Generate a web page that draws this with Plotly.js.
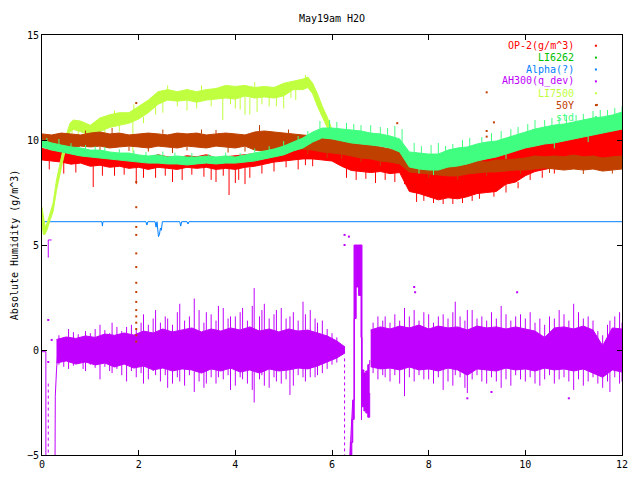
<!DOCTYPE html>
<html>
<head>
<meta charset="utf-8">
<script src="https://cdn.plot.ly/plotly-3.0.1.min.js"></script>
<style>body{margin:0;background:#fff}#myDiv{width:640px;height:480px}</style>
</head>
<body>
<div id="myDiv"></div>
<script>
var FONT = 'DejaVu Sans Mono, monospace';

// common time grid (hours)
var gridX = [0,0.2,0.4,0.6,0.8,1,1.2,1.4,1.6,1.8,2,2.2,2.4,2.6,2.8,3,3.2,3.4,3.6,3.8,4,4.2,4.4,4.6,4.8,5,5.2,5.4,5.6,5.8,
             6,6.2,6.4,6.6,6.8,7,7.2,7.4,7.6,7.8,8,8.2,8.4,8.6,8.8,9,9.2,9.4,9.6,9.8,10,10.2,10.4,10.6,10.8,11,11.2,11.4,11.6,11.8,12];

// OP-2 band (upper / lower edge of the noise)
var opHi = [9.6,9.5,9.55,9.4,9.45,9.3,9.35,9.25,9.3,9.2,
            9.25,9.15,9.3,9.2,9.15,9.25,9.2,9.3,9.15,9.2,
            9.25,9.3,9.35,9.4,9.5,9.55,9.6,9.65,9.7,9.65,
            9.6,9.55,9.5,9.45,9.4,9.35,9.3,9.2,9.05,8.9,
            8.7,8.6,8.65,8.7,8.85,9.1,9.2,9.5,9.8,9.9,
            9.95,10.0,9.95,10.15,10.1,10.3,10.25,10.35,10.4,10.4,
            10.5];
var opLo = [9.05,9.0,8.95,8.85,8.9,8.75,8.8,8.7,8.75,8.65,
            8.7,8.6,8.7,8.65,8.6,8.7,8.65,8.7,8.6,8.65,
            8.6,8.7,8.75,8.85,8.95,9.0,9.05,9.1,9.1,9.05,
            9.0,8.75,8.55,8.5,8.45,8.5,8.4,8.45,7.55,7.45,
            7.3,7.15,7.25,7.2,7.3,7.45,7.5,7.55,7.9,8.0,
            8.3,8.5,8.6,8.7,8.75,8.8,8.85,8.9,8.85,8.9,
            8.95];
var opSpkX = [0.45,1.06,1.5,1.95,2.35,2.9,3.35,3.6,3.87,4.0,4.07,4.2,4.55,5.3,5.6,6.5,6.9,7.3,7.75,8.1,8.5,8.9,
              9.2,9.45,9.7,9.9,10.15,10.45,10.7,10.95,11.25,11.5,11.75,11.95,
              0.15,0.7,1.25,1.7,2.1,2.55,2.7,3.1,3.5,3.75,4.3,4.8,5.05,5.45,6.3,6.7,7.1,7.5,7.9,8.3,8.7,9.05,9.35,9.6,9.85,10.1,10.35,10.6,
              7.7,8.05,8.55,9.0,9.3,9.55,9.8,10.05,10.3,10.55,10.8,11.1,11.35,11.6,11.85];
var opSpkFrom = [9.0,8.9,8.8,8.7,8.7,8.7,8.7,8.7,8.7,8.7,8.7,8.7,8.9,9.1,9.1,8.6,8.5,8.45,7.5,7.3,7.25,7.35,
                 9.1,9.4,9.7,9.85,9.95,10.0,10.1,10.2,10.2,10.3,10.35,10.4,
                 9.0,8.9,8.8,8.75,8.65,8.65,8.6,8.7,8.65,8.65,8.7,8.95,9.0,9.1,8.7,8.5,8.45,8.4,7.45,7.2,7.25,7.5,7.55,7.9,8.0,8.4,8.55,8.7,
                 8.9,8.7,8.7,9.1,9.4,9.6,9.8,9.9,10.0,10.1,10.1,10.2,10.3,10.35,10.4];
var opSpkTo = [8.4,7.76,8.3,7.9,8.2,8.1,8.25,8.0,7.38,7.95,8.1,7.9,8.4,8.6,8.75,8.1,7.95,8.0,7.05,7.0,6.95,7.1,
               9.55,9.9,10.2,10.33,10.5,10.57,10.48,10.76,10.6,10.86,10.71,10.95,
               8.6,8.45,8.3,8.35,8.2,8.3,8.0,8.35,8.1,8.3,8.2,8.5,8.7,8.8,8.2,8.15,8.1,7.9,7.1,6.95,7.0,7.2,7.3,7.5,7.7,8.1,8.2,8.4,
               9.25,9.1,9.2,9.5,9.8,10.05,10.2,10.4,10.45,10.6,10.55,10.6,10.7,10.8,10.9];
var opDotX = [5.92];
var opDotY = [10.86];

// Alpha(?)
var alX = [0,1.24,1.25,1.26,2.15,2.17,2.19,2.34,2.36,2.38,2.41,2.43,2.45,2.47,2.49,2.85,2.87,2.89,3.0,3.02,3.04,12];
var alY = [6.11,6.11,5.9,6.11,6.11,5.95,6.11,6.11,5.85,6.11,5.4,5.5,5.8,5.7,6.11,6.11,5.9,6.11,6.11,6.0,6.11,6.11];

// AH300(q_dev)
var ahX1 = [0.3,0.5,0.7,0.9,1.1,1.3,1.5,1.7,1.9,2.1,2.3,2.5,2.7,2.9,3.1,3.3,3.5,3.7,3.9,4.1,4.3,4.5,4.7,4.9,5.1,5.3,5.5,5.7,5.9,6.1,6.27];
var ahHi1 = [0.5,0.62,0.55,0.67,0.6,0.76,0.7,0.81,0.71,0.9,0.81,1.0,0.86,0.95,1.05,0.86,1.0,0.9,1.05,0.95,1.1,0.9,1.0,0.86,1.0,0.9,0.95,0.81,0.67,0.43,0.14];
var ahLo1 = [-0.62,-0.52,-0.67,-0.57,-0.71,-0.62,-0.81,-0.67,-0.86,-0.76,-0.95,-0.86,-1.0,-0.9,-0.95,-1.1,-0.9,-1.0,-0.86,-1.05,-0.95,-1.1,-0.9,-1.0,-0.95,-0.86,-0.9,-0.76,-0.57,-0.38,-0.14];
var ahEvX = [6.37,6.41,6.43,6.46,6.5,6.55,6.6,6.62,6.66,6.7,6.74,6.78];
var ahEvHi = [-4.4,-3.3,-2.4,5.0,5.0,5.0,5.0,-0.95,-1.1,-1.0,-0.7,-0.48];
var ahEvLo = [-5.0,-4.4,-3.3,1.5,3.0,2.6,0.6,-2.7,-2.9,-3.0,-3.2,-2.05];
var ahX2 = [6.8,7,7.2,7.4,7.6,7.8,8,8.2,8.4,8.6,8.8,9,9.2,9.4,9.6,9.8,10,10.2,10.4,10.6,10.8,11,11.2,11.4,11.6,11.8,12];
var ahHi2 = [0.95,1.1,1.0,1.14,1.05,1.19,1.0,1.14,1.05,1.1,0.95,1.14,1.05,1.1,1.0,1.1,1.0,0.9,0.6,1.05,1.1,1.0,1.14,0.95,0.2,1.05,1.0];
var ahLo2 = [-0.8,-0.9,-0.86,-0.95,-0.81,-0.95,-0.9,-1.0,-0.86,-0.95,-1.2,-0.9,-0.95,-1.0,-0.86,-0.95,-0.9,-1.0,-0.86,-0.95,-0.9,-1.0,-0.9,-1.1,-1.3,-0.95,-1.05];
var ahSpkX = [0.55,0.9,1.2,1.45,1.75,2.1,2.35,2.6,2.85,3.15,3.4,3.65,3.9,4.15,4.39,4.6,4.85,5.13,5.4,5.65,
              7.1,7.5,7.9,8.3,8.55,8.8,9.1,9.5,9.9,10.3,10.7,11.0,11.3,11.75,11.95,
              0.35,0.45,0.65,0.75,0.85,1.0,1.1,1.3,1.4,1.55,1.65,1.85,1.95,2.05,2.2,2.3,2.45,2.55,2.7,2.8,
              2.95,3.05,3.25,3.35,3.5,3.6,3.75,3.85,4.0,4.1,4.25,4.35,4.5,4.55,4.7,4.8,4.95,5.05,5.2,5.3,
              5.45,5.55,5.7,5.8,5.9,6.0,6.1,
              6.85,6.95,7.05,7.2,7.3,7.4,7.6,7.7,7.8,8.0,8.1,8.2,8.4,8.5,8.65,8.75,8.9,9.0,9.2,9.3,
              9.4,9.6,9.7,9.8,10.0,10.1,10.2,10.4,10.5,10.6,10.8,10.9,11.1,11.2,11.4,11.5,11.6,11.7,11.85,12.0];
var ahSpkLo = [-0.9,-1.0,-1.4,-1.1,-1.5,-1.6,-1.2,-1.8,-1.5,-2.0,-1.6,-1.3,-1.9,-1.4,-2.5,-1.7,-1.5,-2.14,-1.3,-1.3,
               -1.3,-2.2,-1.4,-1.9,-1.2,-2.05,-1.5,-1.8,-1.4,-1.7,-1.4,-1.9,-1.5,-2.0,-1.6,
               -0.7,-0.8,-0.75,-0.6,-0.9,-0.7,-0.85,-0.8,-1.0,-0.9,-1.2,-1.0,-1.3,-1.1,-1.4,-1.0,-1.5,-1.2,-1.6,-1.3,
               -1.7,-1.2,-1.5,-1.8,-1.3,-1.6,-1.4,-1.2,-1.7,-1.3,-1.6,-1.9,-1.4,-1.2,-1.8,-1.3,-1.6,-1.4,-1.7,-1.2,
               -1.5,-1.3,-1.2,-1.1,-0.9,-0.7,-0.6,
               -1.1,-1.4,-1.2,-1.5,-1.2,-1.6,-1.3,-1.5,-1.2,-1.4,-1.6,-1.3,-1.5,-1.7,-1.3,-1.8,-1.4,-1.2,-1.6,-1.3,
               -1.5,-1.4,-1.7,-1.2,-1.5,-1.3,-1.6,-1.4,-1.2,-1.6,-1.3,-1.5,-1.4,-1.7,-1.3,-1.6,-1.8,-1.5,-1.3,-1.5];
var ahSpkHi = [1.0,0.9,1.2,1.3,1.1,1.7,1.9,1.5,2.2,2.45,1.8,2.1,1.6,2.0,2.95,2.2,1.9,1.6,2.3,1.5,
               1.6,2.0,1.8,1.7,2.3,1.9,1.6,2.1,1.7,1.5,1.9,2.2,1.6,1.4,1.8,
               0.7,0.6,0.85,0.75,0.6,0.8,1.0,0.95,0.8,1.1,0.9,1.2,1.0,1.3,1.2,1.5,1.3,1.6,1.2,1.8,
               1.4,1.6,1.9,1.3,1.7,1.4,2.0,1.5,1.6,1.8,1.4,2.1,1.6,1.9,1.5,1.7,2.0,1.5,1.8,1.4,
               1.7,1.9,1.3,1.4,1.0,0.8,0.6,
               1.3,1.6,1.4,1.3,1.7,1.4,1.6,1.9,1.4,1.7,1.3,1.6,1.5,1.8,1.6,1.4,1.9,1.5,1.4,1.8,
               1.5,1.7,1.4,1.6,1.5,1.8,1.3,1.2,1.6,1.5,1.7,1.4,1.8,1.5,1.4,0.9,0.7,1.2,1.6,1.3];
var ahLineX = [0,0.08,0.08,null,0.13,0.13,0.2,null,0.27,0.275,0.3,0.33,null,6.37,6.41,6.43,6.46,6.46,null,6.61,6.61];
var ahLineY = [-0.08,-0.08,-5,null,4.4,5.24,5.24,null,-5,-2.2,-0.95,0,null,-5,-3.33,-2.38,-2.38,5.0,null,0.6,-3.33];
var ahDashX = [0.13,0.13,null,6.26,6.26];
var ahDashY = [-1.6,-5,null,-0.4,-5];
var ahDotX = [0.13,0.13,0.2,6.26,6.26,6.35,7.7,7.72,9.83,8.8,10.9,9.3];
var ahDotY = [1.43,-0.57,0.48,5.48,5.0,5.4,3.0,2.75,2.75,-2.3,-2.3,-2.0];

// LI7500
var lxX = [0,0.03,0.06,0.1,0.17,0.23,0.3,0.37,0.44,0.51,0.58,0.65,0.8,1,1.2,1.4,1.6,1.8,2,2.2,2.4,2.6,2.8,3,3.2,3.4,3.6,3.8,4,4.2,4.4,4.6,4.8,5,5.2,5.4,5.5,5.6,5.7,5.8,5.9,6];
var lxHi = [6.8,6.2,5.9,6.0,6.5,7.0,8.1,8.9,9.6,10.3,10.8,10.95,10.9,10.7,11.05,11.2,11.3,11.3,11.6,11.9,12.3,12.4,12.3,12.4,12.3,12.4,12.45,12.6,12.55,12.6,12.5,12.55,12.5,12.7,12.8,12.9,13.0,12.7,12.2,11.6,11.1,10.5];
var lxLo = [5.9,5.5,5.5,5.7,6.2,6.6,7.6,8.4,9.1,9.8,10.4,10.5,10.4,10.2,10.4,10.6,10.7,10.8,11.0,11.3,11.7,11.9,11.85,11.9,11.8,11.9,11.95,12.0,11.95,12.1,12.0,12.05,12.0,12.1,12.4,12.4,12.5,12.2,11.6,11.1,10.6,10.1];
var lxSpkX = [0.62,1.05,1.88,2.5,3.0,3.74,4.0,4.1,4.2,4.3,4.45,4.7,5.0,5.25,
              0.75,0.9,1.15,1.3,1.6,2.1,2.35,2.8,3.2,3.5,3.9,4.55,4.85,5.15,
              1.5,1.9,2.6,3.3,4.4,5.45];
var lxSpkFrom = [10.5,10.3,10.9,11.8,11.9,12.0,12.0,12.0,12.1,12.0,12.0,12.0,12.1,12.4,
                 10.5,10.5,10.4,10.5,10.8,11.1,11.6,11.9,11.9,11.9,12.0,12.0,12.0,12.3,
                 11.1,11.4,12.3,12.3,12.5,12.8];
var lxSpkTo = [9.7,9.9,9.4,11.3,11.4,10.95,11.5,11.45,11.2,11.2,11.33,11.6,11.5,11.9,
               10.1,10.0,10.05,10.2,10.4,10.8,11.2,11.6,11.5,11.6,11.7,11.7,11.6,12.0,
               11.4,11.7,12.6,12.6,12.75,13.1];

// 50Y
var fyHi = [10.29,10.24,10.33,10.29,10.24,10.33,10.38,10.29,10.33,10.24,
            10.29,10.33,10.29,10.24,10.33,10.29,10.33,10.24,10.29,10.33,
            10.29,10.24,10.38,10.43,10.38,10.33,10.29,10.24,10.19,10.1,
            10.05,10.0,9.9,9.81,9.76,9.67,9.57,9.48,9.05,9.0,
            8.95,8.9,8.95,8.9,8.95,9.0,8.95,9.05,9.05,9.1,
            9.14,9.24,9.2,9.24,9.2,9.29,9.2,9.24,9.14,9.2,
            9.24];
var fyLo = [9.71,9.67,9.71,9.62,9.71,9.67,9.71,9.62,9.67,9.71,
            9.67,9.62,9.71,9.67,9.62,9.71,9.67,9.62,9.71,9.67,
            9.62,9.71,9.52,9.48,9.52,9.48,9.57,9.57,9.52,9.43,
            9.38,9.33,9.24,9.14,9.1,9.0,8.95,8.86,8.48,8.43,
            8.38,8.33,8.29,8.29,8.38,8.43,8.48,8.48,8.52,8.57,
            8.57,8.62,8.67,8.62,8.57,8.62,8.57,8.62,8.52,8.57,
            8.62];
var fySpkX = [0.5,1.45,1.8,2.7,3.3,3.85,4.5,4.9,5.9,6.6,
              0.2,0.9,1.2,2.2,2.5,3.0,3.6,4.2,4.7,5.1,5.5,6.2,7.0,7.3,8.0,8.6,9.2,9.9,10.5,11.2,11.8];
var fySpkFrom = [9.7,10.3,9.7,9.65,10.3,9.65,10.4,9.5,9.45,9.2,
                 9.7,10.25,9.7,9.65,10.3,9.7,10.3,9.7,9.5,10.3,9.55,9.35,9.0,9.6,8.4,8.3,8.5,8.6,8.65,8.6,8.6];
var fySpkTo = [9.43,10.57,9.48,9.38,10.5,9.4,10.71,9.24,9.14,8.95,
               9.5,10.45,9.45,9.45,10.5,9.5,10.48,9.45,9.3,10.5,9.33,9.1,8.76,9.8,8.2,8.1,8.29,8.38,8.43,8.38,8.4];
var fyDotX = [1.95,1.95,1.95,1.95,1.95,1.95,1.95,1.95,1.95,1.95,1.95,1.95,1.95,1.95,1.95,1.95,7.35,9.2,9.35,9.2,9.2,9.68,11.48];
var fyDotY = [11.76,8.0,6.8,5.86,5.48,4.6,3.95,3.2,2.76,2.29,1.9,1.6,1.3,1.0,0.7,0.4,10.8,12.27,10.84,10.43,10.16,10.1,11.67];

// std
var sdHi = [10.0,9.86,9.76,9.67,9.62,9.52,9.52,9.43,9.38,9.38,
            9.29,9.24,9.29,9.19,9.24,9.19,9.19,9.24,9.19,9.24,
            9.19,9.29,9.38,9.48,9.57,9.71,9.9,10.1,10.38,10.57,
            10.57,10.52,10.48,10.43,10.33,10.29,10.19,10.05,9.43,9.38,
            9.33,9.33,9.52,9.62,9.67,9.81,9.9,9.95,10.1,10.24,
            10.38,10.52,10.62,10.71,10.76,10.86,10.95,11.05,11.1,11.19,
            11.33];
var sdLo = [9.67,9.52,9.43,9.33,9.24,9.19,9.14,9.1,9.05,9.0,
            8.95,8.9,8.9,8.86,8.86,8.81,8.86,8.9,8.86,8.9,
            8.9,8.95,9.0,9.1,9.19,9.29,9.48,9.62,9.9,10.1,
            10.05,9.95,9.86,9.81,9.76,9.71,9.62,9.43,8.71,8.62,
            8.57,8.57,8.71,8.76,8.86,9.0,9.1,9.19,9.33,9.48,
            9.62,9.71,9.81,9.86,9.95,10.05,10.14,10.24,10.33,10.43,
            10.52];
var sdSpkX = [0.35,0.9,1.3,2.15,2.75,3.45,4.1,4.7,5.3,5.75,6.1,6.45,6.8,7.15,7.45,7.7,8.05,8.35,8.7,9.1,9.5,9.85,10.2,10.55,10.85,11.2,11.55,11.85,
              0.1,0.6,1.1,1.6,1.9,2.5,3.1,3.8,4.4,5.0,5.5,5.95,6.3,6.6,7.0,7.3,7.85,8.2,8.5,8.85,9.3,9.7,10.05,10.4,10.7,11.05,11.4,11.7,12.0,
              7.8,8.1,9.6,10.6,11.3];
var sdSpkFrom = [9.7,9.5,9.4,9.2,9.1,9.1,9.1,9.4,9.8,10.4,10.4,10.4,10.3,10.1,9.9,9.3,9.2,9.3,9.5,9.8,9.9,10.2,10.4,10.6,10.7,10.9,11.0,11.1,
                 9.8,9.6,9.45,9.3,9.3,9.2,9.15,9.15,9.3,9.6,10.0,10.5,10.4,10.4,10.2,10.1,9.3,9.3,9.4,9.6,9.85,10.1,10.3,10.5,10.7,10.8,11.0,11.1,11.2,
                 8.7,8.6,9.4,9.9,10.2];
var sdSpkTo = [10.05,9.76,9.67,9.43,9.4,9.33,9.38,9.71,10.19,10.9,10.86,10.76,10.71,10.57,10.52,9.86,9.76,9.71,10.0,10.14,10.43,10.62,10.95,11.05,11.14,11.24,11.43,11.52,
               10.1,9.85,9.7,9.55,9.5,9.45,9.38,9.4,9.6,9.95,10.43,10.95,10.81,10.71,10.62,10.67,9.71,9.86,9.81,10.1,10.33,10.52,10.76,10.95,11.1,11.19,11.38,11.43,11.6,
               8.4,8.33,9.1,9.6,9.9];

var keyNames = ['OP-2(g/m^3)', 'LI6262', 'Alpha(?)', 'AH300(q_dev)', 'LI7500', '50Y', 'std'];
var keyColors = ['#ff0000', '#00c000', '#0080ff', '#c000ff', '#c0ff40', '#c04000', '#40ff80'];

var xTicks = [0, 2, 4, 6, 8, 10, 12];
var yTicks = [-5, 0, 5, 10, 15];

function band(x, lo, hi, color, shape) {
    var a = {x: x, y: lo, type: 'scatter', mode: 'lines', line: {color: color, width: 1, shape: shape}, hoverinfo: 'skip'};
    var b = {x: x, y: hi, type: 'scatter', mode: 'lines', fill: 'tonexty', fillcolor: color,
             line: {color: color, width: 1, shape: shape}, hoverinfo: 'skip'};
    return [a, b];
}

function spikes(xs, from, to, color) {
    var t = {x: [], y: [], type: 'scatter', mode: 'lines', line: {color: color, width: 1}, hoverinfo: 'skip'};
    for (let i = 0; i < xs.length; i++) {
        t.x.push(xs[i], xs[i], null);
        t.y.push(from[i], to[i], null);
    }
    return t;
}

function dots(x, y, color) {
    return {x: x, y: y, type: 'scatter', mode: 'markers', marker: {color: color, size: 2, symbol: 'square'}, hoverinfo: 'skip'};
}

var data = [];
// OP-2
data = data.concat(band(gridX, opLo, opHi, keyColors[0], 'linear'));
data.push(spikes(opSpkX, opSpkFrom, opSpkTo, keyColors[0]));
data.push(dots(opDotX, opDotY, keyColors[0]));
// Alpha
data.push({x: alX, y: alY, type: 'scatter', mode: 'lines', line: {color: keyColors[2], width: 1}, hoverinfo: 'skip'});
// AH300
data = data.concat(band(ahX1, ahLo1, ahHi1, keyColors[3], 'linear'));
data = data.concat(band(ahEvX, ahEvLo, ahEvHi, keyColors[3], 'hv'));
data = data.concat(band(ahX2, ahLo2, ahHi2, keyColors[3], 'linear'));
data.push(spikes(ahSpkX, ahSpkLo, ahSpkHi, keyColors[3]));
data.push({x: ahLineX, y: ahLineY, type: 'scatter', mode: 'lines', line: {color: keyColors[3], width: 1}, hoverinfo: 'skip'});
data.push({x: ahDashX, y: ahDashY, type: 'scatter', mode: 'lines', line: {color: keyColors[3], width: 1, dash: 'dot'}, hoverinfo: 'skip'});
data.push(dots(ahDotX, ahDotY, keyColors[3]));
// LI7500
data = data.concat(band(lxX, lxLo, lxHi, keyColors[4], 'linear'));
data.push(spikes(lxSpkX, lxSpkFrom, lxSpkTo, keyColors[4]));
// 50Y
data = data.concat(band(gridX, fyLo, fyHi, keyColors[5], 'linear'));
data.push(spikes(fySpkX, fySpkFrom, fySpkTo, keyColors[5]));
data.push(dots(fyDotX, fyDotY, keyColors[5]));
// std
data = data.concat(band(gridX, sdLo, sdHi, keyColors[6], 'linear'));
data.push(spikes(sdSpkX, sdSpkFrom, sdSpkTo, keyColors[6]));

// key in the top right corner, gnuplot style: text then sample point
var annotations = [];
var shapes = [];
var keyTop = 0.9745, keyStep = 0.0283;
for (let i = 0; i < keyNames.length; i++) {
    var yy = keyTop - i * keyStep;
    annotations.push({text: keyNames[i], xref: 'paper', yref: 'paper', x: 0.9207, y: yy,
                      xanchor: 'right', yanchor: 'middle', showarrow: false,
                      font: {family: FONT, size: 10, color: keyColors[i]}});
    shapes.push({type: 'rect', xref: 'paper', yref: 'paper', xsizemode: 'pixel', ysizemode: 'pixel',
                 xanchor: 0.955, yanchor: yy, x0: -1, x1: 1, y0: -1, y1: 1,
                 fillcolor: keyColors[i], line: {width: 0}});
}
annotations.push({text: 'Absolute Humidity (g/m^3)', xref: 'paper', yref: 'paper', x: -0.048, y: 0.5,
                  textangle: -90, xanchor: 'center', yanchor: 'middle', showarrow: false,
                  font: {family: FONT, size: 10, color: '#000'}});

var axisStyle = {
    ticks: 'inside', ticklen: 5, tickcolor: '#000', mirror: 'ticks',
    showline: true, linecolor: '#000', linewidth: 1,
    showgrid: false, zeroline: false,
    tickfont: {family: FONT, size: 10, color: '#000'}
};

var layout = {
    width: 640, height: 480,
    margin: {l: 42, r: 18, t: 35, b: 25},
    paper_bgcolor: '#fff', plot_bgcolor: '#fff',
    showlegend: false,
    font: {family: FONT, size: 10, color: '#000'},
    title: {text: 'May19am H2O', x: 0.5, xref: 'paper', y: 0.962, yref: 'container', yanchor: 'middle',
            font: {family: FONT, size: 10, color: '#000'}},
    xaxis: Object.assign({range: [0, 12], tickvals: xTicks}, axisStyle),
    yaxis: Object.assign({range: [-5, 15], tickvals: yTicks}, axisStyle),
    annotations: annotations,
    shapes: shapes
};

Plotly.newPlot('myDiv', data, layout, {displayModeBar: false, staticPlot: true});
</script>
</body>
</html>
